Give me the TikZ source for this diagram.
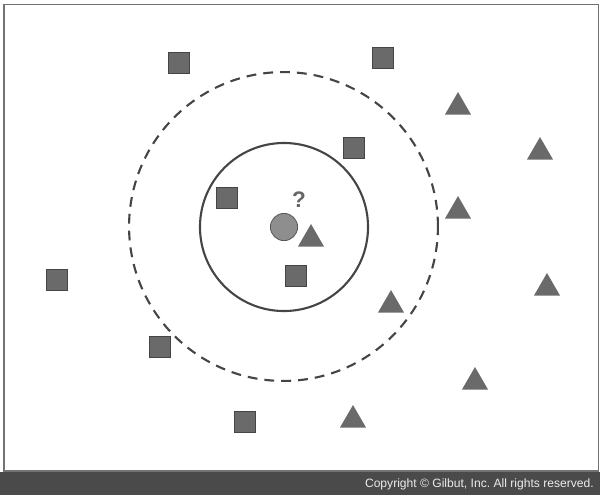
\documentclass[tikz,border=0pt]{standalone}
\usepackage{fontspec}
\setsansfont{Liberation Sans}
\usepackage{xcolor}
\usepackage{tikz}
\usetikzlibrary{shapes.geometric, positioning}
\definecolor{markgray}{HTML}{6A6A6A}
\definecolor{edgegray}{HTML}{454545}
\definecolor{querygray}{HTML}{8E8E8E}
\definecolor{bargray}{HTML}{4A4A4A}
\frenchspacing
\tikzset{
  classa/.style={
    draw=edgegray, fill=markgray, line width=0.9pt,
    rectangle, minimum size=0.53cm, inner sep=0pt
  },
  classb/.style={
    fill=markgray, regular polygon, regular polygon sides=3,
    minimum size=0.75cm, inner sep=0pt
  },
  ring/.style={
    draw=edgegray, circle, line width=1.5pt, inner sep=0pt
  },
}

\begin{document}
\begin{tikzpicture}[x=0.025cm, y=-0.025cm]
  \useasboundingbox (0,0) rectangle (600,495);

  % === Frame and footer ===
  \node[draw=gray!90!black, line width=1.2pt, minimum width=14.85cm, minimum height=11.67cm,
    inner sep=0pt, anchor=north west] (frame) at (3.5,3.5) {};
  \node[fill=bargray, minimum width=15cm, minimum height=0.58cm, inner sep=0pt,
    anchor=south west] (footer) at (0,495) {};
  \node[font=\sffamily\fontsize{8.6}{10}\selectfont, text=white!92!black, anchor=east,
    inner sep=0pt] (copy) at (594,484) {Copyright \textcopyright\ Gilbut, Inc. All rights reserved.};

  % === Neighbourhood circles ===
  \node[ring, dashed, dash pattern=on 7pt off 5pt, minimum size=7.72cm] (outer) at (283.5,226.5) {};
  \node[ring, minimum size=4.2cm] (inner) at (284,227) {};

  % === Query point ===
  \node[circle, fill=querygray, draw=gray!70!black, line width=0.6pt,
    minimum size=0.68cm, inner sep=0pt] (query) at (284,227) {};
  \node[font=\sffamily\bfseries\fontsize{16}{16}\selectfont, text=gray!80!black] (qmark) at (299,200) {?};

  % === Squares ===
  \node[classa] (sqa) at (179,63) {};
  \node[classa] (sqb) at (383,58) {};
  \node[classa] (sqc) at (354,148) {};
  \node[classa] (sqd) at (227,198) {};
  \node[classa] (sqe) at (296,276) {};
  \node[classa] (sqf) at (57,280) {};
  \node[classa] (sqg) at (160,347) {};
  \node[classa] (sqh) at (245,422) {};

  % === Triangles ===
  \node[classb] (tra) at (458,107) {};
  \node[classb] (trb) at (540,152) {};
  \node[classb] (trc) at (458,211) {};
  \node[classb] (trd) at (311,239) {};
  \node[classb] (tre) at (391,305) {};
  \node[classb] (trf) at (547,288) {};
  \node[classb] (trg) at (475,382) {};
  \node[classb] (trh) at (353,420) {};

\end{tikzpicture}
\end{document}
